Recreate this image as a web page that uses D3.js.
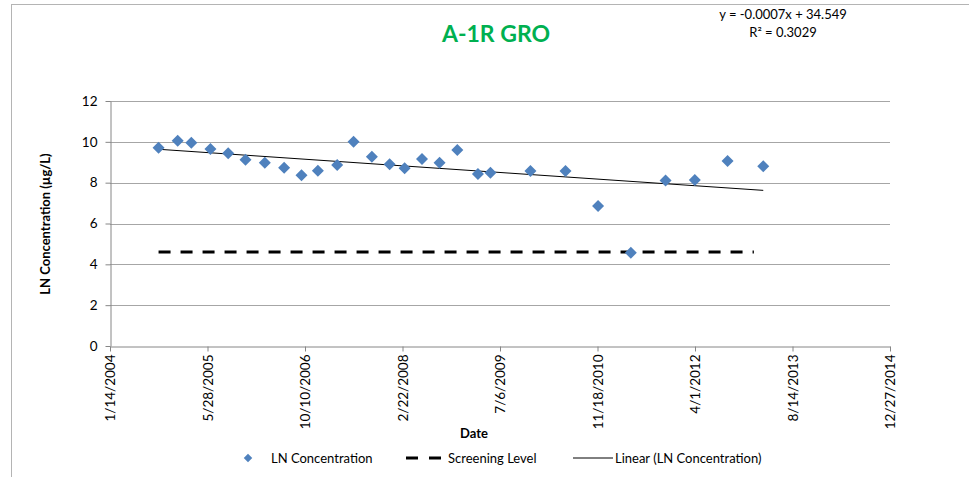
<!DOCTYPE html>
<html>
<head>
<meta charset="utf-8">
<script src="https://cdn.jsdelivr.net/npm/d3@7"></script>
<style>
  body { margin: 0; background: #fff; }
  svg text { font-family: Lato, "Liberation Sans", sans-serif; fill: #000; }
</style>
</head>
<body>
<svg id="chart" width="969" height="477"></svg>
<script>
// Sample dates and LN concentrations (µg/L)
const sampleDates = [
  '2004-09-19', '2004-12-26', '2005-03-06', '2005-06-12', '2005-09-11', '2005-12-09',
  '2006-03-18', '2006-06-25', '2006-09-22', '2006-12-15', '2007-03-24', '2007-06-16',
  '2007-09-18', '2007-12-18', '2008-03-04', '2008-06-01', '2008-08-30', '2008-11-29',
  '2009-03-15', '2009-05-18', '2009-12-09', '2010-06-07', '2010-11-21', '2011-05-08',
  '2011-11-02', '2012-03-31', '2012-09-15', '2013-03-17',
];
const lnValues = [
  9.71, 10.05, 9.96, 9.65, 9.44, 9.12,
  8.98, 8.73, 8.36, 8.58, 8.86, 10.0,
  9.27, 8.90, 8.70, 9.16, 8.98, 9.60,
  8.42, 8.49, 8.57, 8.57, 6.86, 4.57,
  8.10, 8.13, 9.06, 8.81,
];
const screeningLevel = 4.6;
const screeningRange = ['2004-09-19', '2013-01-28'];

// Axis ticks (Excel serial 38000..42000, step 500 days)
const xTickLabels = ['1/14/2004', '5/28/2005', '10/10/2006', '2/22/2008', '7/6/2009',
  '11/18/2010', '4/1/2012', '8/14/2013', '12/27/2014'];
const yTicks = [0, 2, 4, 6, 8, 10, 12];

const title = 'A-1R GRO';
const equation = ['y = -0.0007x + 34.549', 'R² = 0.3029'];
const legendItems = ['LN Concentration', 'Screening Level', 'Linear (LN Concentration)'];

const parse = d3.utcParse('%Y-%m-%d');
const parseTick = d3.utcParse('%m/%d/%Y');
const data = sampleDates.map((d, i) => ({date: parse(d), value: lnValues[i]}));

const svg = d3.select('#chart');
const margin = {top: 101, right: 79, bottom: 131, left: 110};
const width = 969 - margin.left - margin.right;
const height = 477 - margin.top - margin.bottom;

// Outer chart border (clipped by the window on the right and bottom)
svg.append('rect')
  .attr('x', 11.5).attr('y', 4.5)
  .attr('width', 1000).attr('height', 500)
  .attr('fill', 'none').attr('stroke', '#b4b4b4');

const g = svg.append('g')
  .attr('transform', `translate(${margin.left}, ${margin.top})`);

const tickDates = xTickLabels.map(parseTick);
const x = d3.scaleUtc()
  .domain([tickDates[0], tickDates[tickDates.length - 1]])
  .range([0, width]);
const y = d3.scaleLinear()
  .domain([0, 12])
  .range([height, 0]);

// Gridlines
g.append('g')
  .selectAll('line')
  .data(yTicks.filter((t) => t > 0))
  .join('line')
    .attr('x1', 0).attr('x2', width)
    .attr('y1', (d) => Math.round(y(d)) + 0.5)
    .attr('y2', (d) => Math.round(y(d)) + 0.5)
    .attr('stroke', '#a6a6a6');

// Y axis
const yAxis = g.append('g')
  .attr('transform', 'translate(0.5, 0)')
  .call(d3.axisLeft(y).tickValues(yTicks).tickSize(5).tickPadding(8).tickSizeOuter(0));
yAxis.select('.domain').attr('stroke', '#868686');
yAxis.selectAll('.tick line').attr('stroke', '#868686');
yAxis.selectAll('.tick text').attr('font-size', 13.5).style('font-family', 'Lato, sans-serif');

// X axis
const xAxis = g.append('g')
  .attr('transform', `translate(0, ${height + 0.5})`)
  .call(d3.axisBottom(x).tickValues(tickDates).tickSize(5).tickSizeOuter(0)
    .tickFormat((d, i) => xTickLabels[i]));
xAxis.select('.domain').attr('stroke', '#868686');
xAxis.selectAll('.tick line').attr('stroke', '#868686');
xAxis.selectAll('.tick text')
  .attr('font-size', 13.5)
  .style('font-family', 'Lato, sans-serif')
  .attr('text-anchor', 'end')
  .attr('dy', '0.35em')
  .attr('transform', 'translate(0, 8) rotate(-90)')
  .attr('x', 0).attr('y', 0);

// Screening level (dashed)
const screenDates = screeningRange.map(parse);
g.append('line')
  .attr('x1', x(screenDates[0])).attr('x2', x(screenDates[1]))
  .attr('y1', y(screeningLevel)).attr('y2', y(screeningLevel))
  .attr('stroke', '#000')
  .attr('stroke-width', 3)
  .attr('stroke-dasharray', '12,10');

// Linear trend (least squares)
const xs = data.map((d) => +d.date);
const mx = d3.mean(xs);
const my = d3.mean(data, (d) => d.value);
const slope = d3.sum(data, (d) => (+d.date - mx) * (d.value - my)) /
  d3.sum(xs, (v) => (v - mx) * (v - mx));
const intercept = my - slope * mx;
const ends = d3.extent(xs);
g.append('line')
  .attr('x1', x(ends[0])).attr('x2', x(ends[1]))
  .attr('y1', y(intercept + slope * ends[0]))
  .attr('y2', y(intercept + slope * ends[1]))
  .attr('stroke', '#000')
  .attr('stroke-width', 1);

// Points
const diamond = d3.symbol(d3.symbolSquare, 72);
g.append('g')
  .selectAll('path')
  .data(data)
  .join('path')
    .attr('d', diamond)
    .attr('transform', (d) => `translate(${x(d.date)}, ${y(d.value)}) rotate(45)`)
    .attr('fill', '#4f81bd');

// Title and equation
svg.append('text')
  .attr('x', 496).attr('y', 42)
  .attr('text-anchor', 'middle')
  .attr('font-size', 23)
  .attr('font-weight', 'bold')
  .style('fill', '#00b050')
  .text(title);

svg.append('g')
  .selectAll('text')
  .data(equation)
  .join('text')
    .attr('x', 783)
    .attr('y', (d, i) => 19 + i * 18)
    .attr('text-anchor', 'middle')
    .attr('font-size', 13)
    .text((d) => d);

// Axis titles
svg.append('text')
  .attr('x', 474).attr('y', 438)
  .attr('text-anchor', 'middle')
  .attr('font-size', 13)
  .attr('font-weight', 'bold')
  .text('Date');

svg.append('text')
  .attr('transform', 'translate(50, 224) rotate(-90)')
  .attr('text-anchor', 'middle')
  .attr('font-size', 13)
  .attr('font-weight', 'bold')
  .text('LN Concentration (µg/L)');

// Legend
const legendY = 458;
const legend = svg.append('g');
legend.append('path')
  .attr('d', d3.symbol(d3.symbolSquare, 36))
  .attr('transform', `translate(248, ${legendY}) rotate(45)`)
  .attr('fill', '#4f81bd');
legend.append('line')
  .attr('x1', 406).attr('x2', 441)
  .attr('y1', legendY).attr('y2', legendY)
  .attr('stroke', '#000').attr('stroke-width', 3)
  .attr('stroke-dasharray', '12,11');
legend.append('line')
  .attr('x1', 573).attr('x2', 613)
  .attr('y1', legendY).attr('y2', legendY)
  .attr('stroke', '#000').attr('stroke-width', 1);
legend.selectAll('text')
  .data(legendItems)
  .join('text')
    .attr('x', (d, i) => [271, 448, 615][i])
    .attr('y', legendY)
    .attr('dy', '0.35em')
    .attr('font-size', 13)
    .text((d) => d);
</script>
</body>
</html>
